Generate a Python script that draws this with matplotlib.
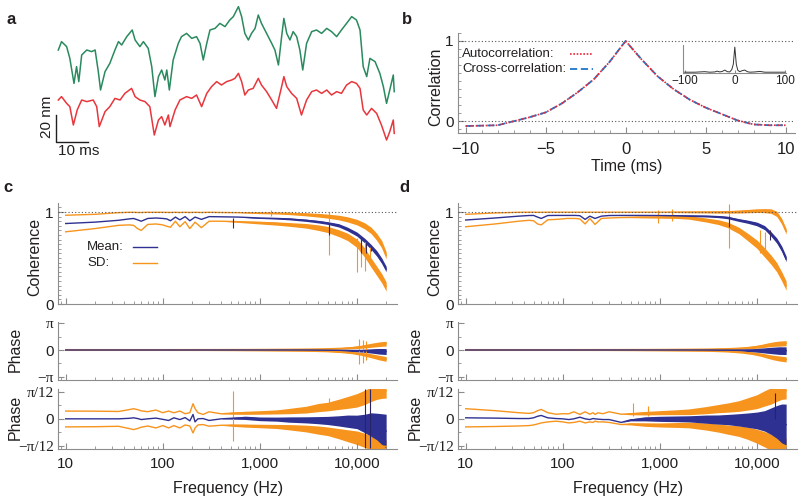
import numpy as np
import matplotlib
matplotlib.use("Agg")
import matplotlib.pyplot as plt
from matplotlib.ticker import FixedLocator, FixedFormatter, LogLocator, NullFormatter, MultipleLocator

plt.rcParams['font.family'] = ['Liberation Sans', 'DejaVu Sans']

# ---------------- panel a: bead traces (time in ms, displacement in nm)
green_t = [0.0, 1.0, 2.6, 3.6, 4.9, 5.7, 6.4, 7.3, 8.9, 10.4, 11.5, 12.5, 13.2, 14.6, 16.1, 17.7,
           18.8, 19.8, 21.4, 23.1, 24.0, 25.5, 26.6, 28.1, 29.2, 30.2, 31.3, 32.3, 33.3, 33.9, 34.7,
           35.9, 37.5, 38.5, 40.1, 41.7, 43.2, 44.3, 45.3, 46.4, 47.4, 49.0, 50.5, 52.1, 53.6, 54.7,
           56.3, 57.3, 58.3, 59.4, 60.4, 61.5, 62.5, 63.5, 65.1, 66.7, 67.7, 68.8, 69.8, 70.5, 71.4,
           72.4, 73.4, 74.5, 75.5, 76.4, 77.6, 79.2, 80.7, 82.3, 83.9, 85.4, 87.0, 88.5, 90.1, 91.7,
           93.2, 94.3, 95.3, 96.4, 97.4, 99.0, 100.5, 101.6, 102.6, 103.6, 104.7, 105.0]
green_nm = [74.0, 80.2, 76.5, 67.8, 49.3, 61.7, 50.6, 70.3, 74.0, 72.8, 74.0, 58.0, 44.4, 58.0, 64.1, 74.0,
            80.2, 77.7, 83.9, 88.8, 81.4, 76.5, 80.2, 75.2, 61.7, 39.5, 54.3, 59.2, 51.8, 59.2, 44.4,
            66.6, 78.9, 83.9, 86.3, 82.6, 83.9, 78.9, 66.6, 78.9, 88.8, 90.0, 93.7, 91.3, 96.2, 98.7,
            106.1, 98.7, 86.3, 81.4, 86.3, 90.0, 99.9, 93.7, 86.3, 78.9, 74.0, 62.9, 83.9, 97.4, 86.3,
            81.4, 87.6, 83.9, 74.0, 59.2, 78.9, 87.6, 88.8, 86.3, 90.0, 87.6, 83.9, 88.8, 93.7, 98.7,
            96.2, 88.8, 61.7, 54.3, 67.8, 65.4, 56.7, 46.9, 34.5, 44.4, 55.5, 43.2]
red_t = [0.0, 1.0, 2.6, 3.6, 4.7, 5.9, 7.3, 8.9, 10.9, 12.0, 12.8, 14.6, 16.1, 17.7, 19.3, 20.8,
         22.9, 24.0, 25.5, 27.1, 28.6, 30.0, 31.3, 32.3, 33.3, 34.4, 34.9, 36.5, 38.0, 40.1, 41.7,
         43.2, 44.8, 46.4, 47.9, 49.5, 51.0, 52.6, 54.2, 55.2, 56.3, 57.3, 58.3, 59.4, 60.9, 62.5,
         63.5, 65.1, 66.7, 68.2, 69.8, 70.5, 71.4, 72.9, 74.5, 76.0, 77.6, 79.2, 80.7, 82.3, 83.9,
         85.4, 87.0, 88.5, 90.1, 91.7, 93.2, 94.3, 95.3, 96.4, 97.9, 99.5, 101.0, 102.6, 103.6,
         104.7, 105.0]
red_nm = [37.0, 39.5, 34.5, 32.1, 18.5, 29.6, 37.0, 35.8, 37.0, 32.1, 17.3, 28.4, 32.1, 38.2, 37.0, 41.9,
          45.6, 39.5, 37.0, 35.8, 32.1, 11.1, 22.2, 24.7, 18.5, 25.9, 17.3, 29.6, 37.0, 39.5, 38.2,
          40.7, 32.1, 41.9, 46.9, 50.6, 48.1, 50.6, 51.8, 53.0, 56.7, 50.6, 40.7, 44.4, 45.6, 53.0,
          48.1, 43.2, 37.0, 30.8, 46.9, 54.3, 46.9, 41.9, 38.2, 25.9, 37.0, 43.2, 44.4, 41.9, 44.4,
          40.7, 43.2, 41.9, 48.1, 50.6, 49.3, 45.6, 29.6, 25.9, 30.8, 27.1, 18.5, 7.4, 13.6,
          22.2, 12.3]

# ---------------- panel b: correlations (time in ms)
corr_t = [-10, -9, -8, -7, -6, -5, -4, -3, -2, -1, 0, 1, 2, 3, 4, 5, 6, 7, 8, 9, 10]
auto_corr = [-0.06, -0.055, -0.05, 0.0, 0.05, 0.11, 0.22, 0.36, 0.52, 0.74, 1.0,
             0.77, 0.56, 0.40, 0.27, 0.17, 0.09, 0.01, -0.04, -0.05, -0.05]
cross_corr = [-0.06, -0.055, -0.05, 0.0, 0.05, 0.11, 0.22, 0.36, 0.52, 0.74, 1.0,
              0.77, 0.56, 0.40, 0.27, 0.17, 0.09, 0.01, -0.04, -0.05, -0.05]
inset_lag = [-100, -80, -60, -50, -40, -35, -30, -25, -20, -15, -10, -6, -3, 0,
             3, 6, 10, 15, 20, 25, 30, 40, 50, 60, 80, 100]
inset_val = [0.05, 0.05, 0.07, 0.05, 0.06, 0.09, 0.06, 0.08, 0.13, 0.07, 0.06, 0.15, 0.35, 1.0,
             0.35, 0.12, 0.07, 0.11, 0.13, 0.07, 0.05, 0.06, 0.08, 0.05, 0.05, 0.05]

# ---------------- panels c, d: coherence
coh_f = [10, 20, 35, 45, 50, 55, 60, 70, 85, 100, 110, 120, 135, 150, 170, 190, 215, 250, 300,
         400, 600, 1000, 1500, 2000, 3000, 4000, 5000, 6500, 8000, 10000, 12000, 14000, 16000,
         18000, 20000]
c_coh_upper = [0.965, 0.975, 0.993, 0.997, 0.997, 0.995, 0.995, 0.997, 0.997, 0.997, 0.996, 0.995,
               0.997, 0.995, 0.997, 0.995, 0.997, 0.995, 0.997, 0.995, 0.993, 0.99, 0.988, 0.985,
               0.975, 0.965, 0.955, 0.94, 0.92, 0.89, 0.85, 0.8, 0.73, 0.65, 0.53]
c_coh_upper_sp = [0, 0, 0, 0, 0, 0, 0, 0, 0, 0, 0, 0, 0, 0, 0, 0, 0, 0, 0, 0, 0,
                  0.008, 0.01, 0.013, 0.017, 0.02, 0.022, 0.025, 0.028, 0.03, 0.033, 0.035,
                  0.038, 0.04, 0.04]
c_coh_mean = [0.875, 0.89, 0.91, 0.925, 0.93, 0.915, 0.9, 0.93, 0.935, 0.93, 0.925, 0.905, 0.945,
              0.915, 0.95, 0.905, 0.945, 0.92, 0.95, 0.948, 0.945, 0.935, 0.93, 0.925, 0.91, 0.895,
              0.88, 0.855, 0.815, 0.76, 0.69, 0.62, 0.55, 0.47, 0.38]
c_coh_mean_sp = [0, 0, 0, 0, 0, 0, 0, 0, 0, 0, 0, 0, 0, 0, 0, 0, 0, 0, 0, 0, 0,
                 0.005, 0.007, 0.01, 0.012, 0.014, 0.015, 0.018, 0.02, 0.022, 0.025, 0.027,
                 0.03, 0.03, 0.03]
c_coh_lower = [0.785, 0.82, 0.855, 0.86, 0.855, 0.82, 0.8, 0.865, 0.87, 0.86, 0.845, 0.835, 0.9,
               0.84, 0.895, 0.82, 0.89, 0.83, 0.9, 0.9, 0.895, 0.885, 0.875, 0.865, 0.85, 0.83,
               0.81, 0.77, 0.73, 0.66, 0.56, 0.45, 0.36, 0.28, 0.19]
c_coh_lower_sp = [0, 0, 0, 0, 0, 0, 0, 0, 0, 0, 0, 0, 0, 0, 0, 0, 0, 0, 0, 0,
                  0.008, 0.015, 0.018, 0.02, 0.025, 0.03, 0.033, 0.037, 0.04, 0.045, 0.05,
                  0.05, 0.05, 0.05, 0.05]

d_coh_upper = [0.975, 0.99, 0.997, 0.998, 0.998, 0.997, 0.997, 0.998, 0.998, 0.998, 0.998, 0.998,
               0.998, 0.998, 0.998, 0.998, 0.998, 0.998, 0.998, 0.998, 0.998, 0.998, 1.0, 1.0,
               1.0, 1.0, 1.002, 1.005, 1.01, 1.015, 1.015, 1.01, 0.98, 0.9, 0.79]
d_coh_upper_sp = [0, 0, 0, 0, 0, 0, 0, 0, 0, 0, 0, 0, 0, 0, 0, 0, 0, 0, 0, 0, 0, 0,
                  0.006, 0.008, 0.01, 0.012, 0.014, 0.016, 0.018, 0.02, 0.022, 0.025,
                  0.028, 0.03, 0.03]
d_coh_mean = [0.913, 0.935, 0.955, 0.962, 0.963, 0.945, 0.93, 0.962, 0.963, 0.963, 0.963, 0.963,
              0.963, 0.96, 0.92, 0.955, 0.93, 0.955, 0.962, 0.963, 0.963, 0.962, 0.96, 0.958,
              0.955, 0.95, 0.94, 0.913, 0.895, 0.87, 0.83, 0.76, 0.69, 0.6, 0.49]
d_coh_mean_sp = [0, 0, 0, 0, 0, 0, 0, 0, 0, 0, 0, 0, 0, 0, 0, 0, 0, 0, 0, 0, 0, 0,
                 0.005, 0.007, 0.009, 0.011, 0.013, 0.015, 0.017, 0.02, 0.022, 0.025,
                 0.028, 0.03, 0.03]
d_coh_lower = [0.84, 0.87, 0.9, 0.91, 0.905, 0.87, 0.86, 0.915, 0.92, 0.925, 0.93, 0.93, 0.93,
               0.925, 0.87, 0.93, 0.865, 0.93, 0.935, 0.94, 0.945, 0.945, 0.945, 0.94, 0.913,
               0.89, 0.86, 0.8, 0.73, 0.65, 0.56, 0.48, 0.4, 0.3, 0.2]
d_coh_lower_sp = [0, 0, 0, 0, 0, 0, 0, 0, 0, 0, 0, 0, 0, 0, 0, 0, 0, 0, 0, 0,
                  0.008, 0.012, 0.015, 0.018, 0.022, 0.026, 0.03, 0.035, 0.04, 0.045, 0.05,
                  0.05, 0.05, 0.05, 0.05]

# isolated glitches in the coherence (frequency, low, high)
c_coh_spk_orange = ([1300, 5100, 10000, 11000, 12000, 13500], [0.96, 0.53, 0.35, 0.4, 0.36, 0.45],
                    [1.02, 1.0, 0.72, 0.7, 0.68, 0.62])
c_coh_spk_blue = ([530, 5100, 11000, 12500, 14000], [0.83, 0.75, 0.55, 0.55, 0.58],
                  [0.94, 0.88, 0.72, 0.66, 0.62])
d_coh_spk_orange = ([950, 1320, 5100, 10800, 12000], [0.88, 0.9, 0.61, 0.55, 0.6],
                    [1.02, 1.03, 1.09, 0.8, 0.78])
d_coh_spk_blue = ([5100, 13500], [0.84, 0.7], [0.96, 0.8])

# ---------------- phase, full range (rad)
ph1_f = [10, 100, 500, 1000, 2000, 3000, 5000, 7000, 9000, 11000, 13000, 15000, 17000, 20000]
c_ph1_upper = [0.04, 0.04, 0.05, 0.06, 0.08, 0.1, 0.14, 0.2, 0.28, 0.38, 0.5, 0.6, 0.68, 0.75]
c_ph1_mean = [0, 0, 0, 0, 0, 0, -0.02, -0.04, -0.06, -0.08, -0.1, -0.12, -0.15, -0.18]
c_ph1_lower = [-0.04, -0.04, -0.05, -0.06, -0.08, -0.1, -0.15, -0.22, -0.32, -0.45, -0.6, -0.75, -0.9, -1.05]
c_ph1_orange_sp = [0, 0, 0.02, 0.03, 0.04, 0.05, 0.07, 0.1, 0.13, 0.18, 0.22, 0.25, 0.27, 0.28]
c_ph1_mean_sp = [0, 0, 0.01, 0.02, 0.03, 0.04, 0.06, 0.09, 0.12, 0.16, 0.22, 0.28, 0.33, 0.35]
d_ph1_upper = [0.04, 0.04, 0.05, 0.06, 0.08, 0.1, 0.15, 0.22, 0.32, 0.45, 0.6, 0.7, 0.75, 0.8]
d_ph1_mean = [0, 0, 0, 0, 0, 0, -0.01, -0.02, -0.03, -0.04, -0.05, -0.06, -0.07, -0.08]
d_ph1_lower = [-0.04, -0.04, -0.05, -0.06, -0.08, -0.1, -0.16, -0.25, -0.38, -0.55, -0.75, -0.9, -1.0, -1.1]
d_ph1_orange_sp = [0, 0, 0.02, 0.03, 0.04, 0.05, 0.08, 0.12, 0.16, 0.2, 0.24, 0.27, 0.3, 0.3]
d_ph1_mean_sp = [0, 0, 0.01, 0.02, 0.03, 0.05, 0.08, 0.12, 0.18, 0.26, 0.34, 0.4, 0.45, 0.45]
c_ph1_spk_orange = ([10500, 11500, 12500], [-1.7, -1.5, -1.2], [1.3, 1.2, 1.0])

# ---------------- phase, zoomed range (rad)
ph2_f = [10, 20, 35, 45, 50, 55, 60, 70, 85, 100, 115, 130, 150, 170, 190, 205, 215, 230, 260, 300,
         400, 500, 700, 1000, 1500, 2000, 3000, 4000, 5000, 6500, 8000, 10000, 12000, 14000, 16000,
         18000, 20000]
c_ph2_upper = [0.076, 0.075, 0.072, 0.09, 0.099, 0.09, 0.078, 0.07, 0.086, 0.06, 0.076, 0.059, 0.076,
               0.05, 0.06, 0.148, 0.10, 0.06, 0.043, 0.069, 0.049, 0.055, 0.059, 0.062, 0.068, 0.076,
               0.09, 0.11, 0.12, 0.142, 0.16, 0.181, 0.21, 0.24, 0.26, 0.27, 0.273]
c_ph2_mean = [0, 0, 0, 0.005, 0.01, 0.003, -0.007, 0, 0.007, -0.005, -0.016, 0.01, -0.007, 0.012,
              -0.02, 0.043, -0.03, 0.0, 0.003, -0.016, 0, 0.005, 0.01, 0, -0.003, -0.007, -0.01,
              -0.013, -0.016, -0.02, -0.023, -0.03, -0.045, -0.056, -0.075, -0.1, -0.12]
c_ph2_lower = [-0.079, -0.077, -0.073, -0.095, -0.105, -0.095, -0.082, -0.07, -0.089, -0.066, -0.089,
               -0.066, -0.089, -0.06, -0.07, -0.138, -0.09, -0.06, -0.056, -0.072, -0.063, -0.062,
               -0.066, -0.07, -0.075, -0.082, -0.095, -0.11, -0.122, -0.145, -0.165, -0.185, -0.21,
               -0.237, -0.255, -0.265, -0.27]
c_ph2_orange_sp = [0, 0, 0, 0, 0, 0, 0, 0, 0, 0, 0, 0, 0, 0, 0, 0, 0, 0, 0, 0, 0,
                   0.01, 0.015, 0.017, 0.02, 0.026, 0.033, 0.04, 0.042, 0.05, 0.058, 0.066, 0.07,
                   0.07, 0.07, 0.07, 0.07]
c_ph2_mean_sp = [0, 0, 0, 0, 0, 0, 0, 0, 0, 0, 0, 0, 0, 0, 0, 0, 0, 0, 0, 0, 0,
                 0.008, 0.016, 0.018, 0.02, 0.026, 0.03, 0.035, 0.04, 0.05, 0.06, 0.066, 0.09,
                 0.115, 0.13, 0.15, 0.165]
d_ph2_upper = [0.099, 0.08, 0.06, 0.053, 0.06, 0.08, 0.092, 0.06, 0.045, 0.05, 0.049, 0.069, 0.043,
               0.069, 0.045, 0.06, 0.043, 0.059, 0.05, 0.069, 0.045, 0.05, 0.055, 0.06, 0.065, 0.069,
               0.085, 0.1, 0.11, 0.125, 0.145, 0.168, 0.2, 0.224, 0.25, 0.27, 0.275]
d_ph2_mean = [0.01, 0.007, 0.003, 0.003, 0.01, 0.025, 0.033, 0.01, 0.003, 0.0, -0.007, 0.0, 0.016,
              0.0, -0.007, 0.003, 0.0, -0.003, -0.007, -0.007, -0.035, -0.01, 0.0, 0.0, 0.0, 0.0,
              -0.003, -0.007, -0.007, -0.01, -0.013, -0.016, -0.02, -0.023, -0.03, -0.045, -0.056]
d_ph2_lower = [-0.079, -0.075, -0.07, -0.066, -0.06, -0.05, -0.04, -0.03, -0.023, -0.03, -0.04,
               -0.035, -0.023, -0.04, -0.03, -0.035, -0.023, -0.03, -0.03, -0.035, -0.056, -0.05,
               -0.056, -0.06, -0.06, -0.06, -0.075, -0.09, -0.105, -0.12, -0.14, -0.17, -0.2,
               -0.23, -0.25, -0.265, -0.27]
d_ph2_orange_sp = [0, 0, 0, 0, 0, 0, 0, 0, 0, 0, 0, 0, 0, 0, 0, 0, 0, 0, 0, 0, 0,
                   0.01, 0.017, 0.02, 0.024, 0.028, 0.035, 0.04, 0.045, 0.052, 0.06, 0.068, 0.075,
                   0.08, 0.08, 0.08, 0.08]
d_ph2_mean_sp = [0, 0, 0, 0, 0, 0, 0, 0, 0, 0, 0, 0, 0, 0, 0, 0, 0, 0, 0, 0, 0,
                 0.01, 0.02, 0.025, 0.028, 0.03, 0.04, 0.045, 0.05, 0.06, 0.07, 0.082, 0.1,
                 0.13, 0.16, 0.19, 0.2]
c_ph2_spk_orange = ([535, 5100], [-0.22, 0.1], [0.27, 0.2])
c_ph2_spk_blue = ([12000, 13500], [-0.29, -0.29], [0.29, 0.29])
d_ph2_spk_orange = ([535, 760], [0.03, 0.03], [0.15, 0.13])
d_ph2_spk_blue = ([15500], [0.0], [0.25])

freq_ticks = [10, 100, 1000, 10000]
freq_labels = ['10', '100', '1,000', '10,000']

BLUE = '#2e3192'
ORANGE = '#f7941d'
GREY = '#8c8c8c'
TXT = '#231f20'


def style(ax):
    for s in ['top', 'right']:
        ax.spines[s].set_visible(False)
    for s in ['left', 'bottom']:
        ax.spines[s].set_color(GREY)
        ax.spines[s].set_linewidth(0.8)
    ax.tick_params(which='both', direction='in', color=GREY, labelcolor=TXT, labelsize=11, pad=3)
    ax.tick_params(axis='x', pad=6)
    ax.tick_params(which='major', length=4)
    ax.tick_params(which='minor', length=2)


def freq_axis(ax, labels):
    ax.set_xscale('log')
    ax.set_xlim(8.33, 26000)
    ax.xaxis.set_major_locator(FixedLocator(freq_ticks))
    ax.xaxis.set_minor_locator(LogLocator(base=10, subs=np.arange(2, 10)))
    ax.xaxis.set_minor_formatter(NullFormatter())
    if labels:
        ax.xaxis.set_major_formatter(FixedFormatter(freq_labels))
    else:
        ax.xaxis.set_major_formatter(NullFormatter())


def band(ax, f, y, sp, color, lw=1.0):
    y = np.asarray(y)
    sp = np.asarray(sp)
    ax.fill_between(f, y - sp, y + sp, color=color, lw=0)
    ax.plot(f, y, color=color, lw=lw)


def spikes(ax, spk, color):
    f, lo, hi = spk
    ax.vlines(f, lo, hi, color=color, lw=0.8)


def pi_labels(ax):
    for lab in ax.get_yticklabels():
        if 'π' in lab.get_text():
            lab.set_family(['Liberation Serif', 'DejaVu Serif'])


fig = plt.figure(figsize=(8, 5.01), dpi=100)

# ---------------- a
ax_a = fig.add_axes([0.0625, 0.7006, 0.4375, 0.2994])
ax_a.plot(green_t, green_nm, color='#2a8a5e', lw=1.1)
ax_a.plot(red_t, red_nm, color='#e8363c', lw=1.1)
ax_a.plot([-0.7, -0.7, 9.3], [26, 6, 6], color=TXT, lw=1.0, clip_on=False)
ax_a.set_xlim(-2.6, 106.8)
ax_a.set_ylim(0, 111)
ax_a.axis('off')
fig.text(47 / 800, 1 - 117 / 501, '20 nm', rotation=90, ha='center', va='center', fontsize=11, color=TXT)
fig.text(78.5 / 800, 1 - 151 / 501, '10 ms', ha='center', va='center', fontsize=11, color=TXT)

# ---------------- b
ax_b = fig.add_axes([0.5725, 0.734, 0.421, 0.2002])
style(ax_b)
ax_b.axhline(1, color='#555555', ls=(0, (1, 2)), lw=0.8)
ax_b.axhline(0, color='#555555', ls=(0, (1, 2)), lw=0.8)
ax_b.plot(corr_t, cross_corr, color='#1f77c8', lw=1.3, ls=(0, (4, 2)))
ax_b.plot(corr_t, auto_corr, color='#e8283a', lw=1.2, ls=(0, (1, 1)))
ax_b.set_xlim(-10.48, 10.58)
ax_b.set_ylim(-0.15, 1.1)
ax_b.set_xticks([-10, -5, 0, 5, 10])
ax_b.set_xticklabels(['−10', '−5', '0', '5', '10'])
ax_b.xaxis.set_minor_locator(MultipleLocator(1))
ax_b.set_yticks([0, 1])
ax_b.yaxis.set_minor_locator(MultipleLocator(0.1))
ax_b.tick_params(axis='x', labelsize=12)
ax_b.set_xlabel('Time (ms)', fontsize=11.5, color=TXT, labelpad=2)
ax_b.set_ylabel('Correlation', fontsize=11.5, color=TXT)
ax_b.yaxis.set_label_coords(-0.045, 0.46)
ax_b.text(0.012, 0.79, 'Autocorrelation:', transform=ax_b.transAxes, fontsize=9.5, color=TXT, va='center')
ax_b.text(0.012, 0.641, 'Cross-correlation:', transform=ax_b.transAxes, fontsize=9.5, color=TXT, va='center')
ax_b.plot([0.332, 0.40], [0.79, 0.79], transform=ax_b.transAxes, color='#e8283a', lw=1.2, ls=(0, (1, 1)))
ax_b.plot([0.332, 0.40], [0.641, 0.641], transform=ax_b.transAxes, color='#1f77c8', lw=1.3, ls=(0, (4, 2)))

ax_in = fig.add_axes([0.854, 0.8543, 0.129, 0.056])
style(ax_in)
ax_in.plot(inset_lag, inset_val, color='#333333', lw=0.7)
ax_in.set_xlim(-103, 103)
ax_in.set_ylim(0.02, 1.08)
ax_in.set_xticks([-100, 0, 100])
ax_in.set_xticklabels(['−100', '0', '100'])
ax_in.set_yticks([])
ax_in.tick_params(labelsize=8.5, length=2, pad=1.5)

# ---------------- c, d
columns = [
    dict(x0=0.0725,
         coh=(c_coh_upper, c_coh_upper_sp, c_coh_mean, c_coh_mean_sp, c_coh_lower, c_coh_lower_sp),
         coh_spk=(c_coh_spk_orange, c_coh_spk_blue),
         ph1=(c_ph1_upper, c_ph1_mean, c_ph1_lower, c_ph1_orange_sp, c_ph1_mean_sp),
         ph1_spk=c_ph1_spk_orange,
         ph2=(c_ph2_upper, c_ph2_mean, c_ph2_lower, c_ph2_orange_sp, c_ph2_mean_sp),
         ph2_spk=(c_ph2_spk_orange, c_ph2_spk_blue),
         legend=True),
    dict(x0=0.5725,
         coh=(d_coh_upper, d_coh_upper_sp, d_coh_mean, d_coh_mean_sp, d_coh_lower, d_coh_lower_sp),
         coh_spk=(d_coh_spk_orange, d_coh_spk_blue),
         ph1=(d_ph1_upper, d_ph1_mean, d_ph1_lower, d_ph1_orange_sp, d_ph1_mean_sp),
         ph1_spk=None,
         ph2=(d_ph2_upper, d_ph2_mean, d_ph2_lower, d_ph2_orange_sp, d_ph2_mean_sp),
         ph2_spk=(d_ph2_spk_orange, d_ph2_spk_blue),
         legend=False),
]

for col in columns:
    x0 = col['x0']
    # coherence
    ax = fig.add_axes([x0, 0.3932, 0.424, 0.2016])
    style(ax)
    up, up_sp, mn, mn_sp, lo, lo_sp = col['coh']
    ax.axhline(1, color='#555555', ls=(0, (1, 2)), lw=0.8, zorder=5)
    band(ax, coh_f, up, up_sp, ORANGE)
    band(ax, coh_f, lo, lo_sp, ORANGE)
    spikes(ax, col['coh_spk'][0], ORANGE)
    band(ax, coh_f, mn, mn_sp, BLUE)
    spikes(ax, col['coh_spk'][1], '#3a2a5a')
    freq_axis(ax, False)
    ax.set_ylim(0, 1.098)
    ax.set_yticks([0, 1])
    ax.yaxis.set_minor_locator(MultipleLocator(0.05))
    ax.set_ylabel('Coherence', fontsize=11.5, color=TXT)
    ax.yaxis.set_label_coords(-0.045, 0.47)
    if col['legend']:
        ax.text(0.0855, 0.567, 'Mean:', transform=ax.transAxes, fontsize=9.5, color=TXT, va='center')
        ax.text(0.0855, 0.403, 'SD:', transform=ax.transAxes, fontsize=9.5, color=TXT, va='center')
        ax.plot([0.221, 0.292], [0.567, 0.567], transform=ax.transAxes, color=BLUE, lw=1.0)
        ax.plot([0.221, 0.292], [0.403, 0.403], transform=ax.transAxes, color=ORANGE, lw=1.0)

    # phase, full range
    ax = fig.add_axes([x0, 0.2415, 0.424, 0.1164])
    style(ax)
    up, mn, lo, o_sp, m_sp = col['ph1']
    band(ax, ph1_f, up, o_sp, ORANGE)
    band(ax, ph1_f, lo, o_sp, ORANGE)
    if col['ph1_spk'] is not None:
        spikes(ax, col['ph1_spk'], ORANGE)
    band(ax, ph1_f, mn, m_sp, BLUE)
    freq_axis(ax, False)
    ax.set_ylim(-3.53, 3.33)
    ax.set_yticks([-np.pi, 0, np.pi])
    ax.set_yticklabels(['−π', '0', 'π'])
    ax.yaxis.set_minor_locator(MultipleLocator(np.pi / 2))
    pi_labels(ax)
    ax.set_ylabel('Phase', fontsize=11.5, color=TXT)
    ax.yaxis.set_label_coords(-0.103, 0.53)

    # phase, zoomed range
    ax = fig.add_axes([x0, 0.1038, 0.424, 0.1198])
    style(ax)
    up, mn, lo, o_sp, m_sp = col['ph2']
    band(ax, ph2_f, up, o_sp, ORANGE)
    band(ax, ph2_f, lo, o_sp, ORANGE)
    spikes(ax, col['ph2_spk'][0], ORANGE)
    band(ax, ph2_f, mn, m_sp, BLUE)
    spikes(ax, col['ph2_spk'][1], '#2a2266')
    freq_axis(ax, True)
    ax.set_ylim(-0.295, 0.292)
    ax.set_yticks([-np.pi / 12, 0, np.pi / 12])
    ax.set_yticklabels(['−π/12', '0', 'π/12'])
    ax.yaxis.set_minor_locator(MultipleLocator(np.pi / 24))
    pi_labels(ax)
    ax.set_ylabel('Phase', fontsize=11.5, color=TXT)
    ax.yaxis.set_label_coords(-0.103, 0.52)
    ax.set_xlabel('Frequency (Hz)', fontsize=11.5, color=TXT, labelpad=7)

# panel letters
for lab, x, y in [('a', 11, 20), ('b', 407, 19), ('c', 8, 188), ('d', 404, 187)]:
    fig.text(x / 800, 1 - y / 501, lab, fontsize=12, fontweight='bold', ha='center', va='center', color=TXT)

fig.savefig('out.png', dpi=100)
